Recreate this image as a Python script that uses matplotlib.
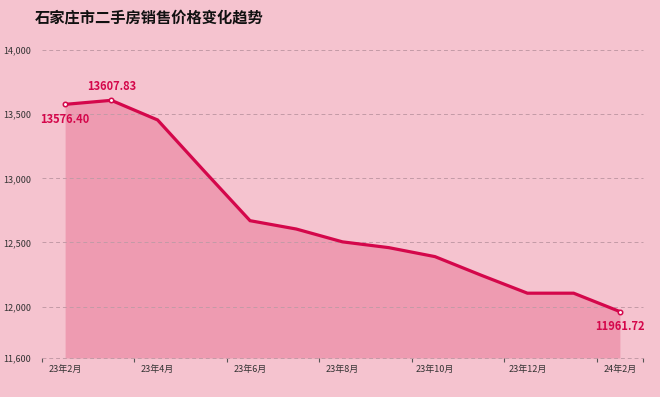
import numpy as np
import matplotlib
matplotlib.use("Agg")
import matplotlib.pyplot as plt

plt.rcParams['font.family'] = ['Noto Sans CJK SC', 'DejaVu Sans']

months = ["23年2月", "23年3月", "23年4月", "23年5月", "23年6月", "23年7月", "23年8月",
          "23年9月", "23年10月", "23年11月", "23年12月", "24年1月", "24年2月"]
prices = [13576.40, 13607.83, 13455, 13060, 12670, 12605, 12505,
          12460, 12390, 12245, 12105, 12105, 11961.72]
labelled = {0: "below", 1: "above", 12: "below"}
y_ticks = [11600, 12000, 12500, 13000, 13500, 14000]

bg = "#f5c3cf"
fill_col = "#ee9bb1"
line_col = "#d4074b"
grid_col = "#c39aa6"

fig = plt.figure(figsize=(6.6, 3.97), dpi=100)
fig.patch.set_facecolor(bg)
ax = fig.add_axes([42/660, 1 - 358/397, (643 - 42)/660, (358 - 50)/397])
ax.set_facecolor(bg)

x = np.arange(len(months))
ax.fill_between(x, prices, 11600, color=fill_col, lw=0, zorder=1)
ax.plot(x, prices, color=line_col, lw=2.3, zorder=3, solid_joinstyle='miter')

for i, pos in labelled.items():
    ax.plot(x[i], prices[i], 'o', ms=3.2, mfc='white', mec=line_col, mew=1.1, zorder=4)
    dy = 10 if pos == "above" else -11
    ax.annotate(f"{prices[i]:.2f}", (x[i], prices[i]), xytext=(0, dy),
                textcoords='offset points', ha='center', va='center',
                fontsize=8, fontweight='bold', color=line_col, zorder=5)

ax.set_xlim(-0.5, len(months) - 0.5)
ax.set_ylim(11600, 14000)
ax.set_yticks(y_ticks)
ax.set_yticklabels([f"{v:,}" for v in y_ticks])
ax.set_xticks(x[::2])
ax.set_xticklabels(months[::2])
ax.set_xticks(np.arange(-0.5, len(months), 2).tolist() + [len(months) - 0.5], minor=True)

ax.tick_params(axis='y', length=0, labelsize=6.5, colors='#333333', pad=8)
ax.tick_params(axis='x', which='major', length=0, labelsize=6.5, colors='#333333', pad=5)
ax.tick_params(axis='x', which='minor', length=3, width=0.8, color='#555555', direction='out')

for s in ax.spines.values():
    s.set_visible(False)
for v in y_ticks:
    ax.axhline(v, color=grid_col, ls=(0, (4, 3)), lw=0.7, zorder=2, clip_on=False)

fig.text(35/660, 1 - 18/397, "石家庄市二手房销售价格变化趋势", fontsize=11,
         fontweight='bold', color='#111111', va='center', ha='left')

fig.savefig("out.png", dpi=100, facecolor=bg)
